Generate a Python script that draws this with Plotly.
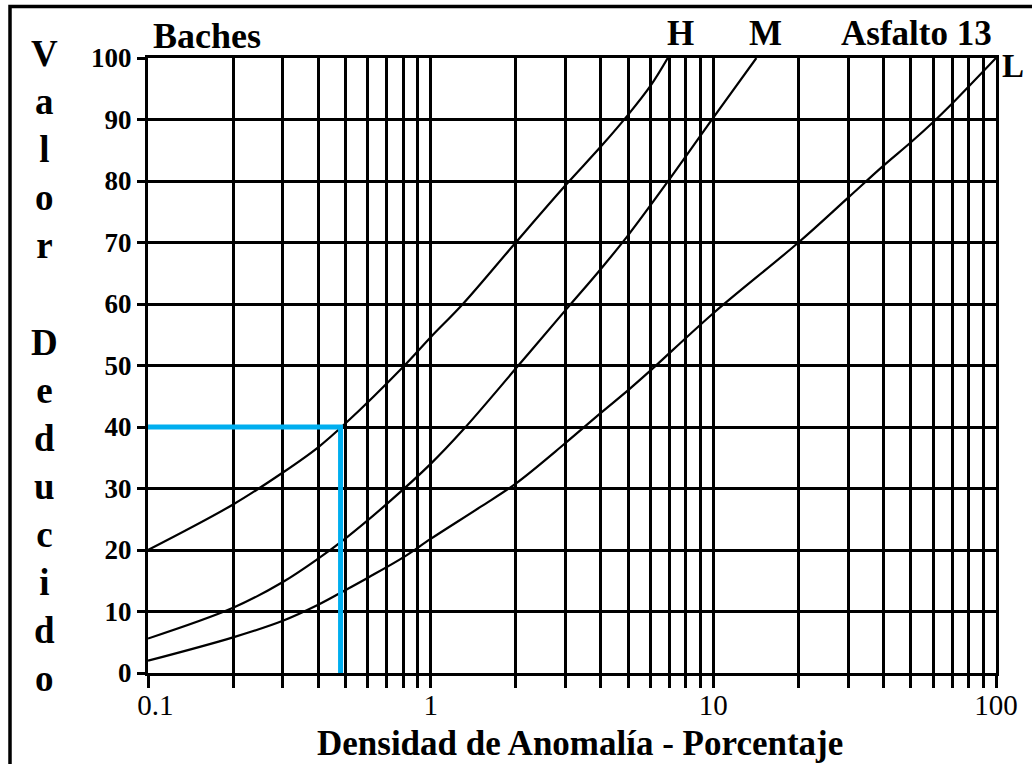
import plotly.graph_objects as go

# ---------------- data ----------------
# Curve H (high severity)
H_x = [0.1, 0.2, 0.3, 0.4, 0.5, 0.8, 1, 1.3, 2, 3, 4, 5, 6, 6.9]
H_y = [20, 27.4, 32.6, 36.7, 40.6, 49.8, 54.6, 60, 70, 79.3, 85.6, 90.8, 95.5, 100]
# Curve M (medium severity)
M_x = [0.1, 0.2, 0.3, 0.4, 0.5, 0.7, 1, 1.3, 2, 3, 4, 5, 7, 10, 14.2]
M_y = [5.6, 10.6, 14.8, 18.6, 21.9, 27.5, 34, 39.5, 49.5, 59, 65.7, 71.2, 80.3, 90.3, 100]
# Curve L (low severity)
L_x = [0.1, 0.2, 0.3, 0.4, 0.5, 0.6, 0.8, 1, 1.5, 2, 3, 4, 5, 6, 10, 20, 30, 40, 50, 60, 70, 100]
L_y = [2, 5.8, 8.5, 11.1, 13.5, 15.5, 18.8, 21.8, 27.0, 30.8, 37.4, 42.3, 46, 49.2, 58.5, 70, 77.3, 82.5, 86.3, 89.6, 92.6, 100]
# Blue reading guide
blue_x = [0.1, 0.48, 0.48]
blue_y = [40, 40, 0]

# Axis ticks / grid
x_grid = [0.1, 0.2, 0.3, 0.4, 0.5, 0.6, 0.7, 0.8, 0.9,
          1, 2, 3, 4, 5, 6, 7, 8, 9,
          10, 20, 30, 40, 50, 60, 70, 80, 90, 100]
x_labels = {0.1: "  0.1", 1: "1", 10: "10", 100: "100"}
y_ticks = [0, 10, 20, 30, 40, 50, 60, 70, 80, 90, 100]

FONT = "Liberation Serif, Times New Roman, serif"

# plot-area geometry (pixels)
W, H = 1032, 764
ML, MR, MT, MB = 148, 36, 58, 91
PW, PH = W - ML - MR, H - MT - MB


def px(xp):
    return (xp - ML) / PW


def py(yp):
    return (H - MB - yp) / PH


fig = go.Figure()
for xs, ys in [(H_x, H_y), (M_x, M_y), (L_x, L_y)]:
    fig.add_trace(go.Scatter(x=xs, y=ys, mode="lines",
                             line=dict(color="black", width=2.2, shape="spline", smoothing=1.0),
                             showlegend=False, hoverinfo="skip"))
fig.add_trace(go.Scatter(x=blue_x, y=blue_y, mode="lines",
                         line=dict(color="#00AEEF", width=5),
                         showlegend=False, hoverinfo="skip"))

fig.update_xaxes(type="log", range=[-1, 2],
                 tickvals=x_grid,
                 ticktext=[x_labels.get(v, "") for v in x_grid],
                 showgrid=True, gridcolor="black", gridwidth=3,
                 ticks="outside", ticklen=12, tickwidth=3, tickcolor="black",
                 ticklabelstandoff=-8,
                 showline=True, linecolor="black", linewidth=3, mirror=True,
                 zeroline=False,
                 tickfont=dict(family=FONT, size=29, color="black"))
fig.update_yaxes(range=[0, 100], tickvals=y_ticks,
                 showgrid=True, gridcolor="black", gridwidth=3,
                 ticks="outside", ticklen=8, tickwidth=3, tickcolor="black",
                 showline=True, linecolor="black", linewidth=3, mirror=True,
                 zeroline=False,
                 tickfont=dict(family=FONT, size=27, color="black", weight="bold"))

ann = []


def text(t, xp, yp, size, xanchor="center"):
    ann.append(dict(text="<b>%s</b>" % t, x=px(xp), y=py(yp), xref="paper", yref="paper",
                    xanchor=xanchor, yanchor="middle", showarrow=False,
                    font=dict(family=FONT, size=size, color="black")))


text("Baches", 151, 36, 36, xanchor="left")
text("H", 680, 34, 35)
text("M", 765, 34, 35)
text("Asfalto 13", 916, 34, 35)
text("L", 1013, 66, 33)
text("Densidad de Anomalía - Porcentaje", 580, 743, 35)
text("<br>".join(list("Valor") + [" "] + list("Deducido")), 44, 366, 37)

fig.update_layout(
    width=W, height=H,
    margin=dict(l=ML, r=MR, t=MT, b=MB),
    paper_bgcolor="white", plot_bgcolor="white",
    annotations=ann,
    shapes=[dict(type="rect", xref="paper", yref="paper",
                 x0=px(10), x1=px(1200), y0=py(900), y1=py(6.5),
                 line=dict(color="black", width=3.5), fillcolor="rgba(0,0,0,0)", layer="above")],
)

fig.write_html("out.html")
